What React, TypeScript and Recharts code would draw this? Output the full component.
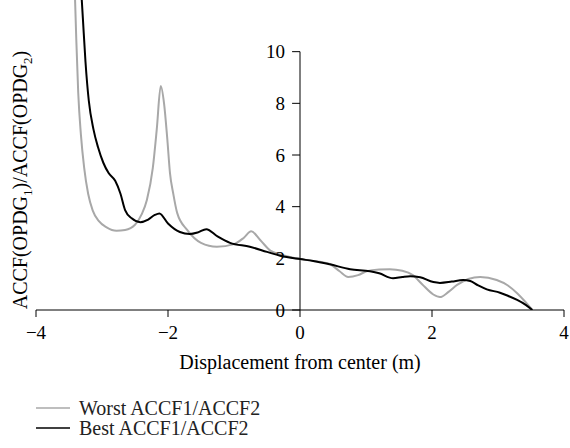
import { LineChart, Line, XAxis, YAxis, ReferenceLine, Legend } from 'recharts';

// Worst ACCF1/ACCF2 (grey)
const worstX = [-3.42, -3.39, -3.36, -3.32, -3.27, -3.21, -3.14, -3.05, -2.93, -2.78, -2.65, -2.5, -2.4, -2.32, -2.23, -2.17, -2.11, -2.06, -2.01, -1.97, -1.92, -1.86, -1.71, -1.5, -1.26, -1.0, -0.85, -0.74, -0.6, -0.45, -0.3, -0.15, 0, 0.2, 0.45, 0.6, 0.73, 0.88, 1.01, 1.2, 1.36, 1.55, 1.71, 1.85, 2.02, 2.12, 2.25, 2.38, 2.55, 2.73, 2.98, 3.15, 3.29, 3.42, 3.52];
const worstY = [13, 10.5, 8.4, 6.8, 5.5, 4.5, 3.85, 3.45, 3.2, 3.07, 3.1, 3.3, 3.7, 4.26, 5.5, 7.0, 8.67, 8.0, 6.6, 5.3, 4.5, 3.75, 3.1, 2.6, 2.45, 2.55, 2.8, 3.05, 2.7, 2.3, 2.15, 2.05, 1.97, 1.9, 1.78, 1.5, 1.28, 1.35, 1.5, 1.57, 1.58, 1.52, 1.35, 1.0, 0.6, 0.5, 0.7, 0.97, 1.2, 1.28, 1.16, 0.95, 0.65, 0.3, 0];

// Best ACCF1/ACCF2 (black)
const bestX = [-3.33, -3.29, -3.25, -3.2, -3.13, -3.06, -2.98, -2.9, -2.8, -2.72, -2.65, -2.55, -2.42, -2.3, -2.2, -2.13, -2.0, -1.82, -1.67, -1.55, -1.42, -1.25, -1.06, -0.76, -0.5, -0.3, 0, 0.2, 0.45, 0.76, 1.06, 1.2, 1.41, 1.55, 1.67, 1.82, 2.02, 2.12, 2.3, 2.47, 2.58, 2.7, 2.83, 3.03, 3.15, 3.29, 3.42, 3.52];
const bestY = [13, 11.3, 9.6, 8.1, 7.0, 6.3, 5.7, 5.3, 5.0, 4.5, 3.87, 3.55, 3.4, 3.5, 3.68, 3.74, 3.35, 3.02, 2.94, 3.0, 3.13, 2.85, 2.6, 2.45, 2.25, 2.1, 1.97, 1.9, 1.77, 1.58, 1.5, 1.42, 1.23, 1.28, 1.31, 1.27, 1.08, 1.05, 1.1, 1.16, 1.12, 0.95, 0.8, 0.67, 0.55, 0.39, 0.2, 0];

const xTicks = [-4, -2, 0, 2, 4];
const yTicks = [0, 2, 4, 6, 8, 10];
const seriesNames = ['Worst ACCF1/ACCF2', 'Best ACCF1/ACCF2'];

const FONT = '"Liberation Serif", "DejaVu Serif", serif';

const worstData = worstX.map((x, i) => ({ x, y: worstY[i] }));
const bestData = bestX.map((x, i) => ({ x, y: bestY[i] }));

const fmtMinus = (v: number) => String(v).replace('-', '\u2212');

function LegendBox(props: any) {
    const items = [...(props.payload || [])].sort(
        (a: any, b: any) => seriesNames.indexOf(a.value) - seriesNames.indexOf(b.value)
    );
    return (
        <div style={{ fontFamily: FONT, fontSize: 20, color: '#222', height: 40 }}>
            {items.map((it: any) => (
                <div key={it.value} style={{ display: 'flex', alignItems: 'center', height: 20 }}>
                    <svg width={34} height={20} style={{ marginRight: 9 }}>
                        <line x1={0} y1={10} x2={34} y2={10} stroke={it.color} strokeWidth={1.5} />
                    </svg>
                    <span>{it.value}</span>
                </div>
            ))}
        </div>
    );
}

export default function App() {
    return (
        <div style={{ position: 'absolute', left: 0, top: 0, fontFamily: FONT }}>
            <style>{`.recharts-wrapper text { font-family: ${FONT}; }`}</style>
            <LineChart width={570} height={448} margin={{ top: 0, right: 6, bottom: 24, left: 36 }}>
                <XAxis
                    dataKey="x"
                    type="number"
                    domain={[-4, 4]}
                    ticks={xTicks}
                    tickFormatter={fmtMinus}
                    height={74}
                    stroke="#000"
                    tickSize={7}
                    tickMargin={9}
                    tick={{ fill: '#000', fontSize: 19 }}
                    label={{ value: 'Displacement from center (m)', position: 'insideBottom', offset: 15, fill: '#000', fontSize: 20 }}
                />
                <YAxis hide type="number" domain={[0, 12]} allowDataOverflow />

                {/* y axis drawn through x = 0 */}
                <ReferenceLine segment={[{ x: 0, y: 0 }, { x: 0, y: 10 }]} stroke="#000" />
                {yTicks.map(v => (
                    <ReferenceLine
                        key={v}
                        segment={[{ x: -0.12, y: v }, { x: 0, y: v }]}
                        stroke="#000"
                        label={{ value: v, position: 'left', offset: 7, fill: '#000', fontSize: 19 }}
                    />
                ))}

                <Line data={worstData} dataKey="y" name={seriesNames[0]} type="monotone" stroke="#a8a8a8" strokeWidth={2} dot={false} isAnimationActive={false} />
                <Line data={bestData} dataKey="y" name={seriesNames[1]} type="monotone" stroke="#000" strokeWidth={2} dot={false} isAnimationActive={false} />

                <Legend verticalAlign="bottom" align="left" layout="horizontal" content={<LegendBox />} wrapperStyle={{ left: 36, bottom: 10 }} />

                <text transform="translate(27,180) rotate(-90)" textAnchor="middle" fontSize={20} fill="#000">
                    ACCF(OPDG<tspan fontSize={13} dy={5}>1</tspan><tspan dy={-5}>)/ACCF(OPDG</tspan><tspan fontSize={13} dy={5}>2</tspan><tspan dy={-5}>)</tspan>
                </text>
            </LineChart>
        </div>
    );
}
